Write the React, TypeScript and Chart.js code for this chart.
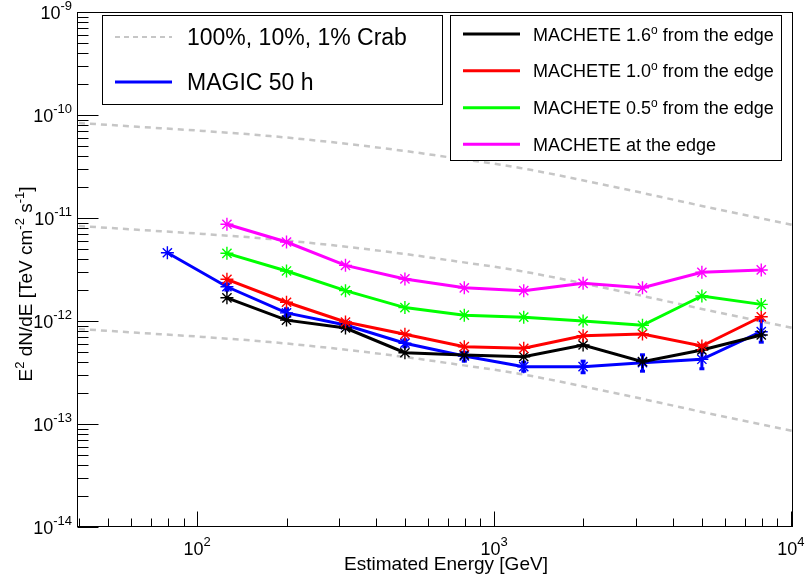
import React, { useEffect, useRef } from "react";
import { Chart, registerables } from "chart.js";
Chart.register(...registerables);

// ---------- data ----------
const machEnergy = [126, 200, 316, 501, 794, 1259, 1995, 3162, 5012, 7943];
const magicEnergy = [79.4, 126, 200, 316, 501, 794, 1259, 1995, 3162, 5012, 7943];
const mach16 = [1.68e-12, 1.02e-12, 8.55e-13, 4.92e-13, 4.68e-13, 4.5e-13, 5.85e-13, 4.03e-13, 5.23e-13, 7.31e-13];
const mach10 = [2.54e-12, 1.52e-12, 9.78e-13, 7.43e-13, 5.63e-13, 5.43e-13, 7.2e-13, 7.48e-13, 5.72e-13, 1.1e-12];
const mach05 = [4.54e-12, 3.06e-12, 1.97e-12, 1.35e-12, 1.14e-12, 1.09e-12, 1.0e-12, 9.08e-13, 1.75e-12, 1.45e-12];
const machEdge = [8.69e-12, 5.85e-12, 3.47e-12, 2.56e-12, 2.1e-12, 1.97e-12, 2.32e-12, 2.1e-12, 2.97e-12, 3.13e-12];
const magic50h = [4.6e-12, 2.15e-12, 1.2e-12, 9.15e-13, 6.08e-13, 4.57e-13, 3.6e-13, 3.6e-13, 3.94e-13, 4.25e-13, 7.87e-13];
const magicErrLow = [4.6e-12, 1.97e-12, 1.09e-12, 8.49e-13, 5.56e-13, 4.03e-13, 3.22e-13, 3.11e-13, 3.22e-13, 3.4e-13, 6.16e-13];
const magicErrHigh = [4.6e-12, 2.32e-12, 1.33e-12, 9.84e-13, 6.64e-13, 5.03e-13, 4.03e-13, 4.12e-13, 4.75e-13, 5.03e-13, 1.02e-12];
const crabEnergy = [40, 63, 105, 176, 296, 494, 658, 1224, 2655, 5770, 10160];
const crab100 = [8.36e-11, 7.69e-11, 7.0e-11, 6.25e-11, 5.38e-11, 4.5e-11, 4.0e-11, 3.06e-11, 1.95e-11, 1.2e-11, 8.55e-12];
const crab10 = [8.36e-12, 7.69e-12, 7.0e-12, 6.25e-12, 5.38e-12, 4.5e-12, 4.0e-12, 3.06e-12, 1.95e-12, 1.2e-12, 8.55e-13];
const crab1 = [8.36e-13, 7.69e-13, 7.0e-13, 6.25e-13, 5.38e-13, 4.5e-13, 4.0e-13, 3.06e-13, 1.95e-13, 1.2e-13, 8.55e-14];
const xTickExps = [2, 3, 4];
const yTickExps = [-9, -10, -11, -12, -13, -14];
const xTitle = "Estimated Energy [GeV]";
const leftLegend = ["100%, 10%, 1% Crab", "MAGIC 50 h"];
const rightLegend = [
  { pre: "MACHETE 1.6", sup: "o", post: " from the edge", color: "#000000" },
  { pre: "MACHETE 1.0", sup: "o", post: " from the edge", color: "#ff0000" },
  { pre: "MACHETE 0.5", sup: "o", post: " from the edge", color: "#00ff00" },
  { pre: "MACHETE at the edge", sup: "", post: "", color: "#ff00ff" },
];

const X_MIN = 39.7;
const X_MAX = 10160;
const FONT = "'Liberation Sans', Arial, Helvetica, sans-serif";
const CRAB_COLOR = "#c6c6c6";

type Part = { t: string; sup?: boolean };

function partsWidth(ctx: CanvasRenderingContext2D, parts: Part[], fs: number, sfs: number) {
  let w = 0;
  for (const p of parts) {
    ctx.font = `${p.sup ? sfs : fs}px ${FONT}`;
    w += ctx.measureText(p.t).width;
  }
  return w;
}

function drawParts(
  ctx: CanvasRenderingContext2D,
  parts: Part[],
  x: number,
  baseline: number,
  fs: number,
  sfs: number,
  raise: number,
  align: "left" | "center" | "right"
) {
  const w = partsWidth(ctx, parts, fs, sfs);
  let cx = align === "left" ? x : align === "center" ? x - w / 2 : x - w;
  ctx.textAlign = "left";
  ctx.textBaseline = "alphabetic";
  for (const p of parts) {
    ctx.font = `${p.sup ? sfs : fs}px ${FONT}`;
    ctx.fillText(p.t, cx, p.sup ? baseline - raise : baseline);
    cx += ctx.measureText(p.t).width;
  }
}

const toXY = (xs: number[], ys: number[]) => xs.map((x, i) => ({ x, y: ys[i] }));

const rootPlugin = {
  id: "rootStyle",
  afterDatasetDraw(chart: any, args: any) {
    if (args.meta.label !== "MAGIC 50 h") return;
    const ctx: CanvasRenderingContext2D = chart.ctx;
    const xs = chart.scales.x;
    const ys = chart.scales.y;
    ctx.save();
    ctx.beginPath();
    const a = chart.chartArea;
    ctx.rect(a.left, a.top, a.right - a.left, a.bottom - a.top);
    ctx.clip();
    ctx.strokeStyle = "#0000ff";
    ctx.fillStyle = "#0000ff";
    ctx.lineWidth = 3;
    magicEnergy.forEach((e, i) => {
      const px = xs.getPixelForValue(e);
      const y1 = ys.getPixelForValue(magicErrHigh[i]);
      const y2 = ys.getPixelForValue(magicErrLow[i]);
      if (Math.abs(y2 - y1) < 1) return;
      ctx.beginPath();
      ctx.moveTo(px, y1);
      ctx.lineTo(px, y2);
      ctx.stroke();
      ctx.fillRect(px - 2.5, y1 - 1, 5, 3);
      ctx.fillRect(px - 2.5, y2 - 2, 5, 3);
    });
    ctx.restore();
  },
  afterDraw(chart: any) {
    const ctx: CanvasRenderingContext2D = chart.ctx;
    const a = chart.chartArea;
    const xs = chart.scales.x;
    const ys = chart.scales.y;
    ctx.save();
    // frame
    ctx.strokeStyle = "#000";
    ctx.lineWidth = 1;
    const L = Math.round(a.left) - 0.5;
    const R = Math.round(a.right) - 0.5;
    const T = Math.round(a.top) + 0.5;
    const B = Math.round(a.bottom) - 0.5;
    ctx.strokeRect(L, T, R - L, B - T);
    // y ticks
    ctx.beginPath();
    for (let e = -14; e <= -9; e++) {
      for (let m = 1; m <= 9; m++) {
        if (e === -9 && m > 1) break;
        const v = m * Math.pow(10, e);
        const py = Math.round(ys.getPixelForValue(v)) + 0.5;
        const len = m === 1 ? 21 : 11;
        ctx.moveTo(L, py);
        ctx.lineTo(L + len, py);
      }
    }
    // x ticks
    for (let e = 1; e <= 4; e++) {
      for (let m = 1; m <= 9; m++) {
        const v = m * Math.pow(10, e);
        if (v < X_MIN || v > X_MAX) continue;
        const px = Math.round(xs.getPixelForValue(v)) + 0.5;
        const len = m === 1 ? 15 : 8;
        ctx.moveTo(px, B);
        ctx.lineTo(px, B - len);
      }
    }
    ctx.stroke();
    ctx.fillStyle = "#000";
    // y tick labels
    for (const e of yTickExps) {
      const py = ys.getPixelForValue(Math.pow(10, e));
      drawParts(ctx, [{ t: "10" }, { t: String(e), sup: true }], 72, py + 6.5, 18, 13, 9, "right");
    }
    // x tick labels
    for (const e of xTickExps) {
      const px = xs.getPixelForValue(Math.pow(10, e));
      drawParts(ctx, [{ t: "10" }, { t: String(e), sup: true }], px, 555, 18, 13, 9, "center");
    }
    // x title
    drawParts(ctx, [{ t: xTitle }], 446, 570, 19, 13, 0, "center");
    // y title
    ctx.save();
    ctx.translate(32, 284);
    ctx.rotate(-Math.PI / 2);
    drawParts(
      ctx,
      [
        { t: "E" },
        { t: "2", sup: true },
        { t: " dN/dE [TeV cm" },
        { t: "-2", sup: true },
        { t: " s" },
        { t: "-1", sup: true },
        { t: "]" },
      ],
      0,
      0,
      19,
      13,
      8,
      "center"
    );
    ctx.restore();

    // left legend
    ctx.fillStyle = "#fff";
    ctx.fillRect(102.5, 15.5, 340, 89);
    ctx.strokeStyle = "#000";
    ctx.lineWidth = 1;
    ctx.strokeRect(102.5, 15.5, 340, 89);
    ctx.strokeStyle = CRAB_COLOR;
    ctx.lineWidth = 2;
    ctx.setLineDash([5, 4]);
    ctx.beginPath();
    ctx.moveTo(115, 37);
    ctx.lineTo(172, 37);
    ctx.stroke();
    ctx.setLineDash([]);
    ctx.strokeStyle = "#0000ff";
    ctx.lineWidth = 3;
    ctx.beginPath();
    ctx.moveTo(115, 82);
    ctx.lineTo(172, 82);
    ctx.stroke();
    ctx.fillStyle = "#000";
    drawParts(ctx, [{ t: leftLegend[0] }], 187, 45, 23, 16, 0, "left");
    drawParts(ctx, [{ t: leftLegend[1] }], 187, 90, 23, 16, 0, "left");

    // right legend
    ctx.fillStyle = "#fff";
    ctx.fillRect(450.5, 15.5, 331, 145);
    ctx.strokeStyle = "#000";
    ctx.lineWidth = 1;
    ctx.strokeRect(450.5, 15.5, 331, 145);
    const rows = [34, 70.7, 107.7, 144.3];
    rightLegend.forEach((r, i) => {
      ctx.strokeStyle = r.color;
      ctx.lineWidth = 3;
      ctx.beginPath();
      ctx.moveTo(463, rows[i]);
      ctx.lineTo(520, rows[i]);
      ctx.stroke();
      ctx.fillStyle = "#000";
      const parts: Part[] = [{ t: r.pre }];
      if (r.sup) parts.push({ t: r.sup, sup: true });
      if (r.post) parts.push({ t: r.post });
      drawParts(ctx, parts, 533, rows[i] + 6.5, 18, 12, 7, "left");
    });
    ctx.restore();
  },
};

export default function App() {
  const ref = useRef<HTMLCanvasElement | null>(null);
  useEffect(() => {
    if (!ref.current) return;
    const crabStyle = {
      borderColor: CRAB_COLOR,
      borderWidth: 2.5,
      borderDash: [6, 5],
      pointRadius: 0,
      cubicInterpolationMode: "monotone" as const,
      order: 10,
    };
    const series = (label: string, data: any, color: string, order: number) => ({
      label,
      data,
      borderColor: color,
      backgroundColor: color,
      borderWidth: 3,
      pointStyle: "star" as const,
      pointRadius: 6.5,
      pointBorderWidth: 1.4,
      pointBorderColor: color,
      order,
    });
    const chart = new Chart(ref.current, {
      type: "line",
      data: {
        datasets: [
          { label: "Crab 100%", data: toXY(crabEnergy, crab100), ...crabStyle },
          { label: "Crab 10%", data: toXY(crabEnergy, crab10), ...crabStyle },
          { label: "Crab 1%", data: toXY(crabEnergy, crab1), ...crabStyle },
          series("MAGIC 50 h", toXY(magicEnergy, magic50h), "#0000ff", 5),
          series("MACHETE 1.6", toXY(machEnergy, mach16), "#000000", 4),
          series("MACHETE 1.0", toXY(machEnergy, mach10), "#ff0000", 3),
          series("MACHETE 0.5", toXY(machEnergy, mach05), "#00ff00", 2),
          series("MACHETE edge", toXY(machEnergy, machEdge), "#ff00ff", 1),
        ] as any,
      },
      options: {
        responsive: false,
        animation: false,
        devicePixelRatio: 1,
        layout: { padding: { left: 78, right: 13, top: 12, bottom: 49 } },
        scales: {
          x: { type: "logarithmic", min: X_MIN, max: X_MAX, display: false },
          y: { type: "logarithmic", min: 1e-14, max: 1e-9, display: false },
        },
        plugins: { legend: { display: false }, tooltip: { enabled: false } },
        elements: { line: { tension: 0 } },
      },
      plugins: [rootPlugin],
    });
    return () => chart.destroy();
  }, []);
  return (
    <div style={{ position: "absolute", left: 0, top: 0, width: 806, height: 576, background: "#fff" }}>
      <canvas ref={ref} width={806} height={576} style={{ display: "block" }} />
    </div>
  );
}
